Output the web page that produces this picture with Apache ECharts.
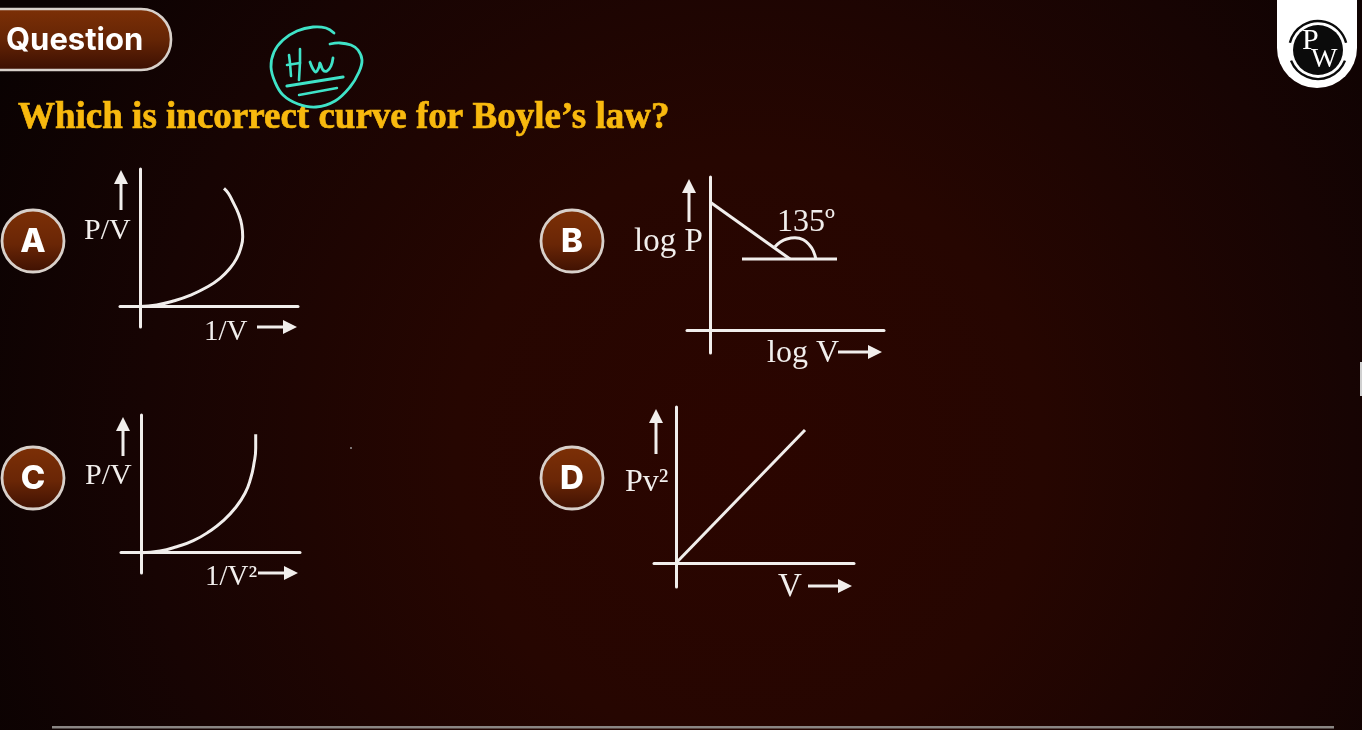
<!DOCTYPE html>
<html><head><meta charset="utf-8">
<style>html,body{margin:0;padding:0;background:#0a0202;overflow:hidden}#c{width:1362px;height:730px}</style>
<script src="https://cdn.jsdelivr.net/npm/echarts@6/dist/echarts.min.js"></script>
</head><body><div id="c"></div>
<script>
// ---- text ----
const questionTitle = "Which is incorrect curve for Boyle’s law?";
const pillLabel = "Question";
const optionLetters = ["A", "B", "C", "D"];
const yLabels = ["P/V", "log P", "P/V", "Pv²"];
const xLabels = ["1/V", "log V", "1/V²", "V"];
const angleLabel = "135º";
// ---- curves, in plot units from each origin ----
const curveA = [[0,0],[16.7,1.5],[33.3,5.5],[50,11.2],[66.7,19.2],[80,28.2],[90,38.2],[96.7,48.2],[100.7,58.2],[102.7,69.8],[101.7,81.5],[98.3,93.2],[93.3,103.8],[88.3,113.2],[84,118.2]];
const lineB = [[0,128],[80,71]];
const baseB = [[32,71],[127,71]];
const arcB = [[65,83.3],[70,87.7],[76.7,91],[85,92.3],[93.3,90.3],[100,84.3],[103.3,79],[106,70.7]];
const curveC = [[0,0],[19,1.7],[35.7,6],[52.3,12],[69,21.7],[82.3,32],[94,44.4],[104,59.4],[109.7,74.4],[113,89.4],[114.7,104.4],[114.7,118.4]];
const lineD = [[0,0],[129,133]];
// ---- axis extents ----
const xRangeA = [-20,158], yRangeA = [-20.5,137.5];
const xRangeB = [-23,174], yRangeB = [-23,153];
const xRangeC = [-20,159], yRangeC = [-20.3,137.7];
const xRangeD = [-22,178], yRangeD = [-24,156];

const INK = "#f1eeec";
const LW = 3;
const SERIF = "'Liberation Serif', serif";
const panels = [
  {left:120, top:169, xr:xRangeA, yr:yRangeA, series:[curveA]},
  {left:687, top:177, xr:xRangeB, yr:yRangeB, series:[lineB, baseB, arcB]},
  {left:121, top:415, xr:xRangeC, yr:yRangeC, series:[curveC]},
  {left:654, top:407, xr:xRangeD, yr:yRangeD, series:[lineD]}
];
const axisBase = {type:"value", axisTick:{show:false}, axisLabel:{show:false}, splitLine:{show:false},
  axisLine:{show:true, onZero:true, lineStyle:{color:INK, width:LW}}};
const grids=[], xAxes=[], yAxes=[], series=[];
panels.forEach((p,i)=>{
  grids.push({left:p.left, top:p.top, width:p.xr[1]-p.xr[0], height:p.yr[1]-p.yr[0], containLabel:false});
  xAxes.push({...axisBase, gridIndex:i, min:p.xr[0], max:p.xr[1]});
  yAxes.push({...axisBase, gridIndex:i, min:p.yr[0], max:p.yr[1]});
  p.series.forEach(d=>{
    series.push({type:"line", xAxisIndex:i, yAxisIndex:i, data:d, showSymbol:false, silent:true, clip:false,
      smooth:d.length>2?0.5:false, lineStyle:{color:INK, width:LW}, animation:false});
  });
});

function txt(text,x,y,size,opts){
  return {type:"text", x, y, silent:true, z:20, style:Object.assign({text, fill:INK, font:`${size}px ${SERIF}`, textAlign:"left", textVerticalAlign:"middle"},opts||{})};
}
function arrowUp(x,yTop,yBot){
  return [{type:"line",silent:true,z:20,shape:{x1:x,y1:yTop+8,x2:x,y2:yBot},style:{stroke:INK,lineWidth:LW}},
          {type:"polygon",silent:true,z:20,shape:{points:[[x,yTop],[x+7,yTop+14],[x-7,yTop+14]]},style:{fill:INK}}];
}
function arrowRight(xL,xR,y){
  return [{type:"line",silent:true,z:20,shape:{x1:xL,y1:y,x2:xR-8,y2:y},style:{stroke:INK,lineWidth:LW}},
          {type:"polygon",silent:true,z:20,shape:{points:[[xR,y],[xR-14,y-7],[xR-14,y+7]]},style:{fill:INK}}];
}
function badge(cx,cy,letter){
  return [{type:"circle",silent:true,z:15,shape:{cx,cy,r:31},style:{
      fill:new echarts.graphic.LinearGradient(0,0,0,1,[{offset:0,color:"#7d3006"},{offset:.55,color:"#6a2606"},{offset:1,color:"#3d1002"}]),
      stroke:"#d8d0ca",lineWidth:2.8}},
    {type:"text",silent:true,z:16,x:cx,y:cy+1,style:{text:letter,fill:"#fff",font:"800 33px Inter, sans-serif",textAlign:"center",textVerticalAlign:"middle"}}];
}
const TEAL="#3fe3c8";
function pen(pts,w){return {type:"polyline",silent:true,z:25,shape:{points:pts,smooth:0.4},style:{fill:null,stroke:TEAL,lineWidth:w||2.8,lineCap:"round",lineJoin:"round"}};}
function seg(pts,w){return {type:"polyline",silent:true,z:25,shape:{points:pts},style:{fill:null,stroke:TEAL,lineWidth:w||2.6,lineCap:"round",lineJoin:"round"}};}

const graphics=[
  // pill
  {type:"rect",silent:true,z:10,shape:{x:-40,y:9,width:211,height:61,r:[0,30,30,0]},style:{
    fill:new echarts.graphic.LinearGradient(0,0,0,1,[{offset:0,color:"#7d3006"},{offset:.5,color:"#652505"},{offset:1,color:"#3a0e02"}]),
    stroke:"#d8d0ca",lineWidth:2.6}},
  {type:"text",silent:true,z:11,x:6,y:41,style:{text:pillLabel,fill:"#fff",font:"bold 31px Inter, sans-serif",textAlign:"left",textVerticalAlign:"middle"}},
  // question
  {type:"text",silent:true,z:12,x:18,y:118,style:{text:questionTitle,fill:"#f8b90e",stroke:"#f8b90e",lineWidth:0.7,font:"bold 37px 'Liberation Serif', serif",textAlign:"left",textVerticalAlign:"middle"}},
  // hand notes
  pen([[334,33],[326,28],[313,27],[297,31],[283,40],[274,52],[271,67],[275,82],[283,95],[298,104],[316,107],[335,101],[350,87],[359,72],[362,60],[358,50],[351,45],[340,43],[330,44]]),
  seg([[289,55],[290,63],[291,76]]),
  seg([[287,65],[300,63]]),
  seg([[300,49],[300,62],[299,80]]),
  pen([[310,62],[313,69],[316,72],[319,67],[320,63],[323,70],[327,71],[331,66],[333,58]]),
  seg([[287,86],[343,77]],3.2),
  seg([[299,95],[337,88]],2.4),
  // logo
  {type:"rect",silent:true,z:10,shape:{x:1277,y:-40,width:80,height:128,r:[0,0,40,40]},style:{fill:"#fff"}},
  {type:"circle",silent:true,z:11,shape:{cx:1318,cy:50,r:25},style:{fill:"#0b0b0b"}},
  {type:"arc",silent:true,z:11,shape:{cx:1318,cy:50,r:29,startAngle:-Math.PI*0.92,endAngle:-Math.PI*0.08},style:{stroke:"#0b0b0b",fill:null,lineWidth:2.4}},
  {type:"arc",silent:true,z:11,shape:{cx:1318,cy:50,r:29,startAngle:Math.PI*0.12,endAngle:Math.PI*0.88},style:{stroke:"#0b0b0b",fill:null,lineWidth:2.4}},
  txt("P",1302,41,30,{fill:"#fff"}),
  txt("W",1311,60,28,{fill:"#fff"}),
  // bottom bar & specks
  {type:"rect",silent:true,z:10,shape:{x:52,y:726,width:1282,height:2.5},style:{fill:"#8a8684"}},
  {type:"rect",silent:true,z:10,shape:{x:1360,y:362,width:2,height:34},style:{fill:"#cfcfcf"}},
  {type:"circle",silent:true,z:10,shape:{cx:351,cy:448,r:1},style:{fill:"#9a9a9a"}},
  // A
  ...badge(33,241,optionLetters[0]),
  ...arrowUp(121,170,210), txt(yLabels[0],84,231,30), txt(xLabels[0],204,332,29), ...arrowRight(257,297,327),
  // B
  ...badge(572,241,optionLetters[1]),
  ...arrowUp(689,179,222), txt(yLabels[1],634,242,33), txt(xLabels[1],767,354,32), ...arrowRight(838,882,352),
  txt(angleLabel,777,223,32),
  // C
  ...badge(33,478,optionLetters[2]),
  ...arrowUp(123,417,456), txt(yLabels[2],85,476,30), txt(xLabels[2],205,577,29), ...arrowRight(258,298,573),
  // D
  ...badge(572,478,optionLetters[3]),
  ...arrowUp(656,409,454), txt(yLabels[3],625,483,32), txt(xLabels[3],778,587,33), ...arrowRight(808,852,586)
];

const chart = echarts.init(document.getElementById("c"),null,{renderer:"canvas",width:1362,height:730});
chart.setOption({
  animation:false,
  backgroundColor:new echarts.graphic.RadialGradient(0.55,0.62,1.15,[
    {offset:0,color:"#2b0500"},{offset:.35,color:"#260601"},{offset:.72,color:"#170403"},{offset:1,color:"#0a0202"}]),
  grid:grids, xAxis:xAxes, yAxis:yAxes, series, graphic:graphics
});
</script></body></html>
